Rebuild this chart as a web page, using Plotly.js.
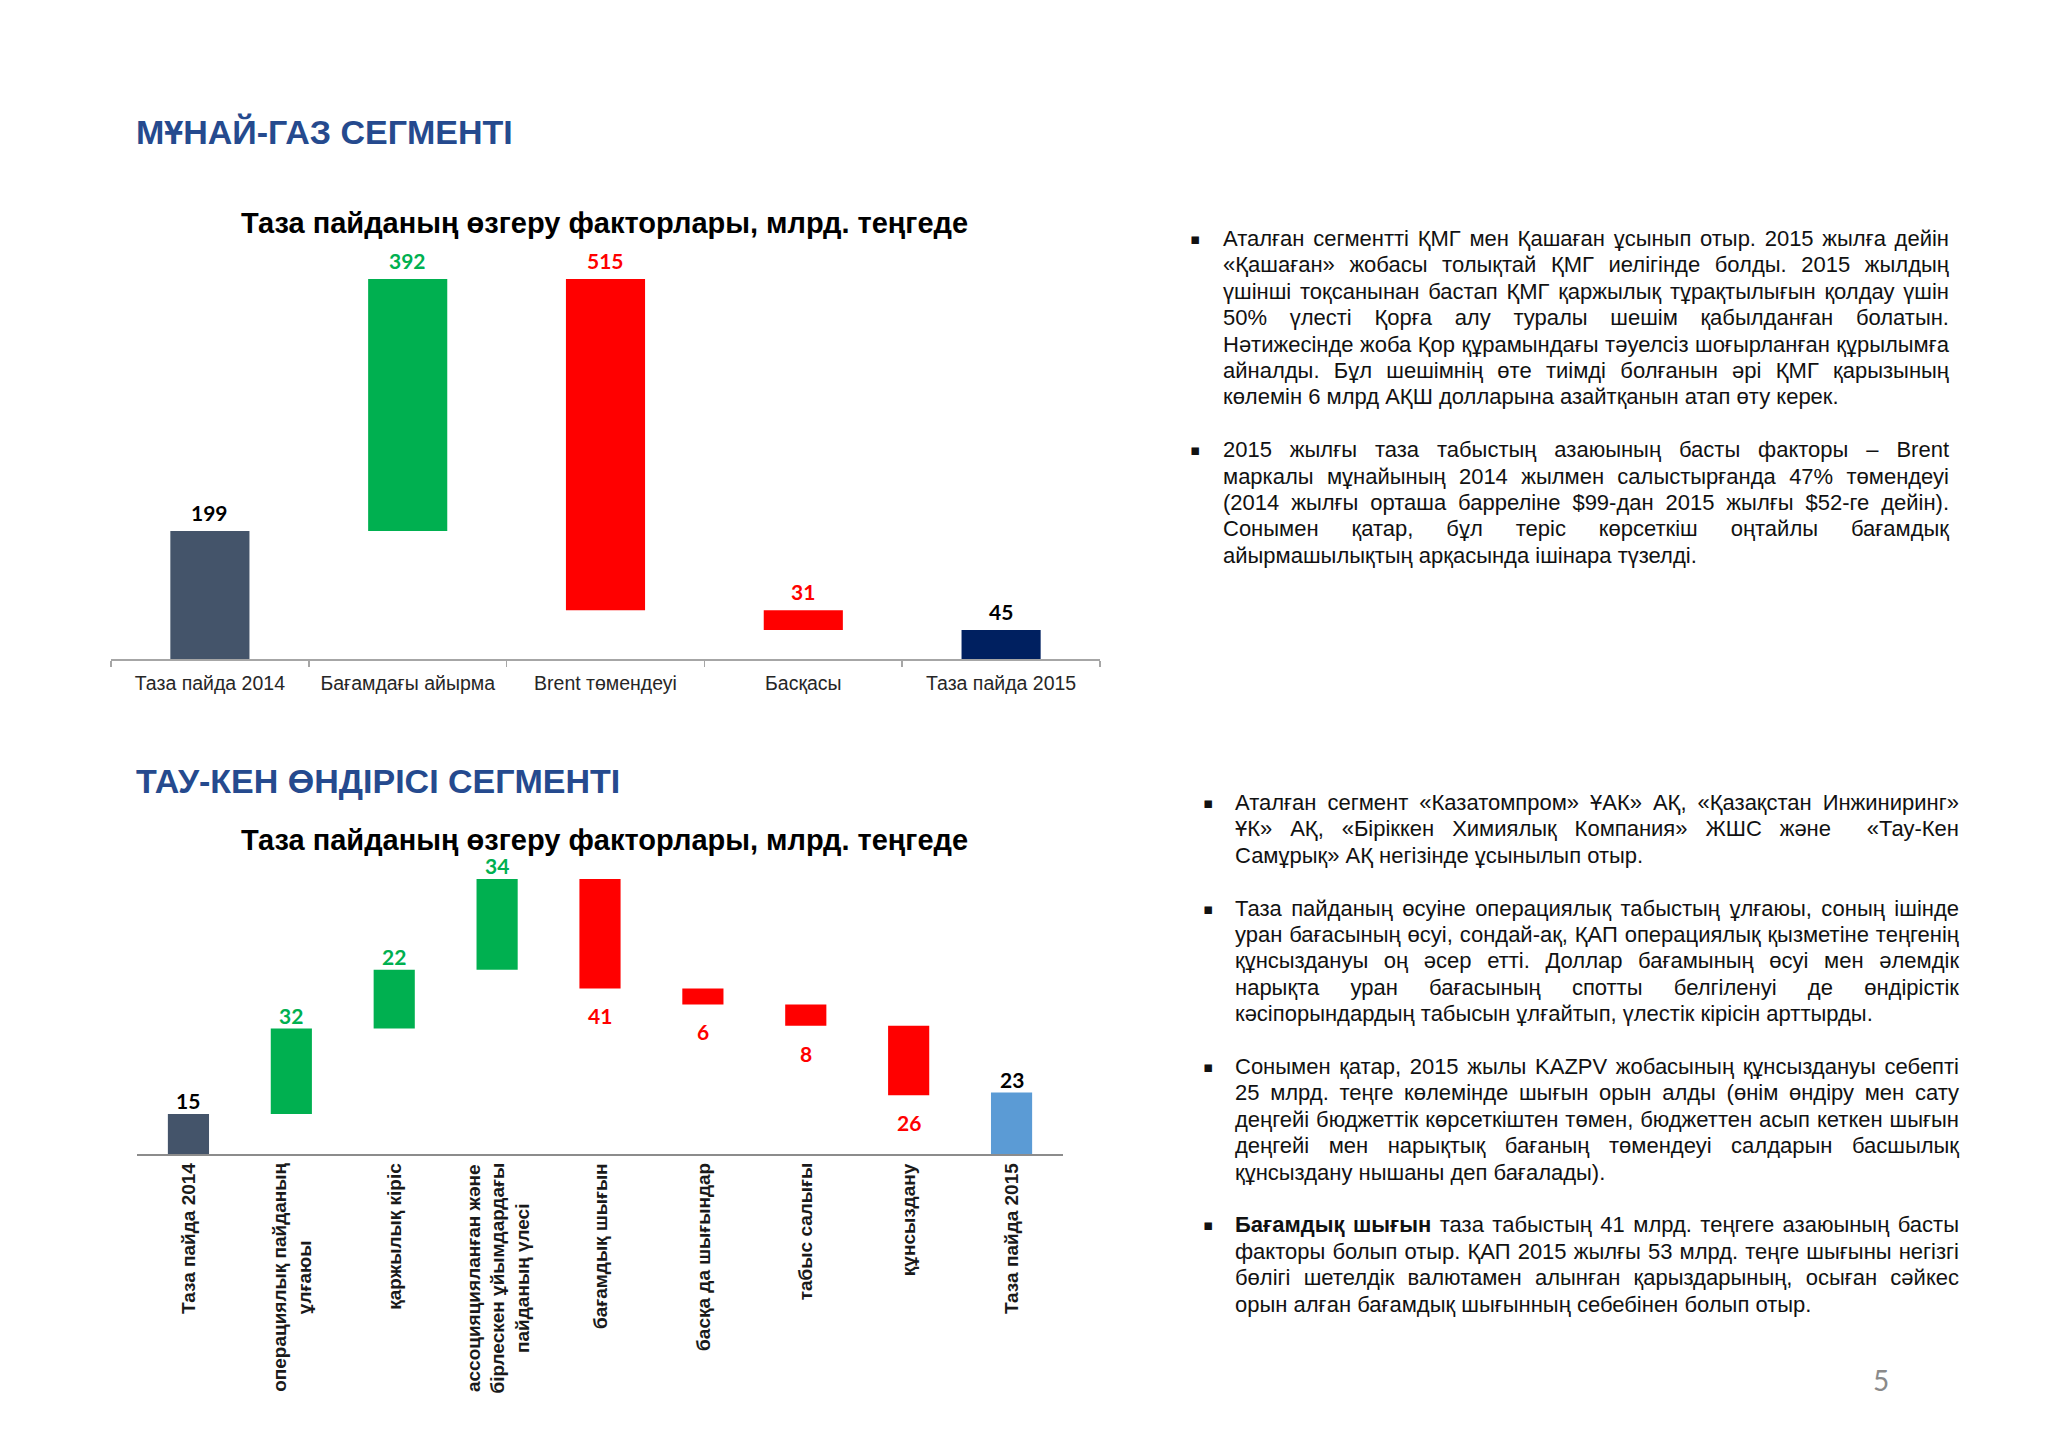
<!DOCTYPE html>
<html>
<head>
<meta charset="utf-8">
<script src="https://cdn.plot.ly/plotly-3.0.1.min.js"></script>
<style>
  html, body { margin: 0; padding: 0; background: #ffffff; }
  #page { position: relative; width: 2048px; height: 1448px; overflow: hidden; background: #ffffff; }
  #chart { position: absolute; left: 0; top: 0; width: 2048px; height: 1448px; }
  .block { position: absolute; font-family: "Liberation Sans", Arial, sans-serif; font-size: 22px; line-height: 26.4px; color: #111111; }
  .para { position: relative; margin-bottom: 26.4px; }
  .para .bul { position: absolute; top: 0; font-family: "DejaVu Sans", sans-serif; font-size: 15px; }
  .ln { display: block; white-space: nowrap; text-align: justify; text-align-last: justify; }
  .ln.last { text-align: left; text-align-last: left; }
  #pnum { position: absolute; left: 1866px; top: 1363px; width: 30px; text-align: center; font-family: Lato, "Open Sans", sans-serif; font-size: 28px; color: #8a8a8a; }
</style>
</head>
<body>
<div id="page">
  <div id="chart"></div>

  <div class="block" id="block1" style="left:1223px; top:226px; width:726px;">
    <div class="para"><span class="bul" style="left:-33px;">▪</span>
      <span class="ln">Аталған сегментті ҚМГ мен Қашаған ұсынып отыр. 2015 жылға дейін</span>
      <span class="ln">«Қашаған» жобасы толықтай ҚМГ иелігінде болды. 2015 жылдың</span>
      <span class="ln">үшінші тоқсанынан бастап ҚМГ қаржылық тұрақтылығын қолдау үшін</span>
      <span class="ln">50% үлесті Қорға алу туралы шешім қабылданған болатын.</span>
      <span class="ln">Нәтижесінде жоба Қор құрамындағы тәуелсіз шоғырланған құрылымға</span>
      <span class="ln">айналды. Бұл шешімнің өте тиімді болғанын әрі ҚМГ қарызының</span>
      <span class="ln last">көлемін 6 млрд АҚШ долларына азайтқанын атап өту керек.</span>
    </div>
    <div class="para"><span class="bul" style="left:-33px;">▪</span>
      <span class="ln">2015 жылғы таза табыстың азаюының басты факторы – Brent</span>
      <span class="ln">маркалы мұнайының 2014 жылмен салыстырғанда 47% төмендеуі</span>
      <span class="ln">(2014 жылғы орташа баррелiне $99-дан 2015 жылғы $52-ге дейін).</span>
      <span class="ln">Сонымен қатар, бұл теріс көрсеткіш оңтайлы бағамдық</span>
      <span class="ln last">айырмашылықтың арқасында ішінара түзелді.</span>
    </div>
  </div>

  <div class="block" id="block2" style="left:1235px; top:790px; width:724px;">
    <div class="para"><span class="bul" style="left:-32px;">▪</span>
      <span class="ln">Аталған сегмент «Казатомпром» ҰАК» АҚ, «Қазақстан Инжиниринг»</span>
      <span class="ln">ҰК» АҚ, «Біріккен Химиялық Компания» ЖШС және&nbsp; «Тау-Кен</span>
      <span class="ln last">Самұрық» АҚ негізінде ұсынылып отыр.</span>
    </div>
    <div class="para"><span class="bul" style="left:-32px;">▪</span>
      <span class="ln">Таза пайданың өсуіне операциялық табыстың ұлғаюы, соның ішінде</span>
      <span class="ln">уран бағасының өсуі, сондай-ақ, ҚАП операциялық қызметіне теңгенің</span>
      <span class="ln">құнсыздануы оң әсер етті. Доллар бағамының өсуі мен әлемдік</span>
      <span class="ln">нарықта уран бағасының спотты белгіленуі де өндірістік</span>
      <span class="ln last">кәсіпорындардың табысын ұлғайтып, үлестік кірісін арттырды.</span>
    </div>
    <div class="para"><span class="bul" style="left:-32px;">▪</span>
      <span class="ln">Сонымен қатар, 2015 жылы KAZPV жобасының құнсыздануы себепті</span>
      <span class="ln">25 млрд. теңге көлемінде шығын орын алды (өнім өндіру мен сату</span>
      <span class="ln">деңгейі бюджеттік көрсеткіштен төмен, бюджеттен асып кеткен шығын</span>
      <span class="ln">деңгейі мен нарықтық бағаның төмендеуі салдарын басшылық</span>
      <span class="ln last">құнсыздану нышаны деп бағалады).</span>
    </div>
    <div class="para"><span class="bul" style="left:-32px;">▪</span>
      <span class="ln"><b>Бағамдық шығын</b> таза табыстың 41 млрд. теңгеге азаюының басты</span>
      <span class="ln">факторы болып отыр. ҚАП 2015 жылғы 53 млрд. теңге шығыны негізгі</span>
      <span class="ln">бөлігі шетелдік валютамен алынған қарыздарының, осыған сәйкес</span>
      <span class="ln last">орын алған бағамдық шығынның себебінен болып отыр.</span>
    </div>
  </div>

  <div id="pnum">5</div>
</div>

<script>
// ---------- DATA ----------
const headings = ['МҰНАЙ-ГАЗ СЕГМЕНТІ', 'ТАУ-КЕН ӨНДІРІСІ СЕГМЕНТІ'];
const chartTitle = 'Таза пайданың өзгеру факторлары, млрд. теңгеде';

// Chart 1: oil & gas segment
const cats1 = ['Таза пайда 2014', 'Бағамдағы айырма', 'Brent төмендеуі', 'Басқасы', 'Таза пайда 2015'];
const vals1 = [199, 392, -515, -31, 45];
const kinds1 = ['total', 'delta', 'delta', 'delta', 'total'];

// Chart 2: mining segment
const cats2 = [
  'Таза пайда 2014',
  'операциялық пайданың<br>ұлғаюы',
  'қаржылық кіріс',
  'ассоцияцияланған және<br>бірлескен ұйымдардағы<br>пайданың үлесі',
  'бағамдық шығын',
  'басқа да шығындар',
  'табыс салығы',
  'құнсыздану',
  'Таза пайда 2015'
];
const vals2 = [15, 32, 22, 34, -41, -6, -8, -26, 23];
const kinds2 = ['total', 'delta', 'delta', 'delta', 'delta', 'delta', 'delta', 'delta', 'total'];

// ---------- STYLE ----------
const GREEN = '#00B050', RED = '#FF0000';
const colors1 = ['#44546A', GREEN, RED, RED, '#002060'];
const colors2 = ['#44546A', GREEN, GREEN, GREEN, RED, RED, RED, RED, '#5B9BD5'];
const ARIAL = 'Liberation Sans, Arial, sans-serif';
const NUMFONT = 'Lato, Carlito, Calibri, sans-serif';
const W = 2048, H = 1448;
const px = v => v / W;
const py = v => 1 - v / H;

// floating-bar geometry from the data
function waterfall(vals, kinds) {
  let run = 0;
  const base = [], height = [], top = [], bottom = [];
  vals.forEach((v, i) => {
    let b, h;
    if (kinds[i] === 'total') { b = 0; h = v; run = v; }
    else { b = v >= 0 ? run : run + v; h = Math.abs(v); run += v; }
    base.push(b); height.push(h); top.push(b + h); bottom.push(b);
  });
  return { base, height, top, bottom };
}
const wf1 = waterfall(vals1, kinds1);
const wf2 = waterfall(vals2, kinds2);

function labelColor(v, k) { return k === 'total' ? '#000000' : (v >= 0 ? GREEN : RED); }

const traces = [
  { type: 'bar', x: cats1, y: wf1.height, base: wf1.base, width: 0.4,
    marker: { color: colors1 }, xaxis: 'x', yaxis: 'y', hoverinfo: 'skip' },
  { type: 'bar', x: cats2, y: wf2.height, base: wf2.base, width: 0.4,
    marker: { color: colors2 }, xaxis: 'x2', yaxis: 'y2', hoverinfo: 'skip' }
];

const ann = [];
// headings
ann.push({ text: '<b>' + headings[0] + '</b>', xref: 'paper', yref: 'paper', x: px(134), y: py(132),
  xanchor: 'left', yanchor: 'middle', showarrow: false, font: { family: ARIAL, size: 34, color: '#254A8E' } });
ann.push({ text: '<b>' + headings[1] + '</b>', xref: 'paper', yref: 'paper', x: px(134), y: py(781),
  xanchor: 'left', yanchor: 'middle', showarrow: false, font: { family: ARIAL, size: 34, color: '#254A8E' } });
// chart titles
ann.push({ text: '<b>' + chartTitle + '</b>', xref: 'paper', yref: 'paper', x: px(604), y: py(223),
  xanchor: 'center', yanchor: 'middle', showarrow: false, font: { family: ARIAL, size: 29, color: '#000000' } });
ann.push({ text: '<b>' + chartTitle + '</b>', xref: 'paper', yref: 'paper', x: px(604), y: py(840),
  xanchor: 'center', yanchor: 'middle', showarrow: false, font: { family: ARIAL, size: 29, color: '#000000' } });

// value labels chart 1 (all above the bar)
vals1.forEach((v, i) => {
  ann.push({ text: '<b>' + Math.abs(v) + '</b>', xref: 'x', yref: 'y', x: cats1[i], y: wf1.top[i],
    xanchor: 'center', yanchor: 'bottom', yshift: 4, showarrow: false,
    font: { family: NUMFONT, size: 21, color: labelColor(v, kinds1[i]) } });
});
// value labels chart 2 (decreases below the bar)
vals2.forEach((v, i) => {
  const below = kinds2[i] === 'delta' && v < 0;
  ann.push({ text: '<b>' + Math.abs(v) + '</b>', xref: 'x2', yref: 'y2', x: cats2[i],
    y: below ? wf2.bottom[i] : wf2.top[i],
    xanchor: 'center', yanchor: below ? 'top' : 'bottom', yshift: below ? -13 : -1, showarrow: false,
    font: { family: NUMFONT, size: 21, color: labelColor(v, kinds2[i]) } });
});
// rotated category labels chart 2
cats2.forEach((c) => {
  ann.push({ text: '<b>' + c + '</b>', xref: 'x2', yref: 'y2', x: c, y: 0, textangle: -90,
    xanchor: 'center', yanchor: 'top', yshift: -7, align: 'center', showarrow: false,
    font: { family: ARIAL, size: 19, color: '#1a1a1a' } });
});

const layout = {
  width: W, height: H,
  margin: { l: 0, r: 0, t: 0, b: 0, pad: 0 },
  paper_bgcolor: '#ffffff', plot_bgcolor: 'rgba(0,0,0,0)',
  showlegend: false, hovermode: false,
  xaxis: { domain: [px(111), px(1100)], anchor: 'y', type: 'category', range: [-0.5, 4.5],
    showline: true, linecolor: '#A6A6A6', linewidth: 1.5,
    ticks: 'outside', tickson: 'boundaries', ticklen: 6, tickwidth: 1.5, tickcolor: '#A6A6A6',
    tickfont: { family: ARIAL, size: 19.5, color: '#262626' }, ticklabelstandoff: 6,
    showgrid: false, zeroline: false, fixedrange: true },
  yaxis: { domain: [py(659), py(250)], anchor: 'x', range: [0, 636], visible: false, fixedrange: true },
  xaxis2: { domain: [px(137), px(1063)], anchor: 'y2', type: 'category', range: [-0.5, 8.5],
    showline: true, linecolor: '#8C8C8C', linewidth: 1.5, ticks: '', showticklabels: false,
    showgrid: false, zeroline: false, fixedrange: true },
  yaxis2: { domain: [py(1154), py(860)], anchor: 'x2', range: [0, 110.1], visible: false, fixedrange: true },
  annotations: ann
};

Plotly.newPlot('chart', traces, layout, { displayModeBar: false, staticPlot: true });
</script>
</body>
</html>
